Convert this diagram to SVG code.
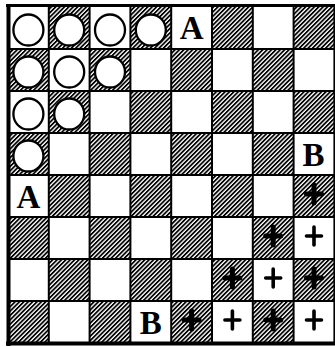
<svg xmlns="http://www.w3.org/2000/svg" xmlns:xlink="http://www.w3.org/1999/xlink" width="335" height="347" viewBox="0 0 335 347">
<style>
.light{fill:#fff}
.grid{stroke:#000;stroke-width:2;fill:none}
.border{stroke:#000;fill:none}
.man{fill:#fff;stroke:#000;stroke-width:2.3}
.lbl{font-family:"Liberation Serif","Times New Roman",serif;font-weight:bold;font-size:33px;text-anchor:middle;fill:#000}
.cw{stroke:#000;stroke-width:3.6;stroke-linecap:round;fill:none}
.cd{stroke:#000;stroke-width:5;stroke-linecap:round;fill:none}
</style>
<defs>
<pattern id="hatch" width="3.1" height="10" patternUnits="userSpaceOnUse" patternTransform="rotate(45)">
<rect width="3.1" height="10" fill="#fff"/>
<rect width="1.75" height="10" fill="#000"/>
</pattern>
<rect id="sq" width="40.8" height="42"/>
<path id="cross" d="M-7.5 0H7.5M0 -9V9"/>
</defs>
<rect width="335" height="347" fill="#fff"/>
<g id="board">
<rect x="8" y="7" width="327" height="336" fill="url(#hatch)"/>
<g class="light">
<use xlink:href="#sq" x="8" y="7"/><use xlink:href="#sq" x="89.6" y="7"/><use xlink:href="#sq" x="171.2" y="7"/><use xlink:href="#sq" x="252.8" y="7"/>
<use xlink:href="#sq" x="48.8" y="49"/><use xlink:href="#sq" x="130.4" y="49"/><use xlink:href="#sq" x="212" y="49"/><use xlink:href="#sq" x="293.6" y="49"/>
<use xlink:href="#sq" x="8" y="91"/><use xlink:href="#sq" x="89.6" y="91"/><use xlink:href="#sq" x="171.2" y="91"/><use xlink:href="#sq" x="252.8" y="91"/>
<use xlink:href="#sq" x="48.8" y="133"/><use xlink:href="#sq" x="130.4" y="133"/><use xlink:href="#sq" x="212" y="133"/><use xlink:href="#sq" x="293.6" y="133"/>
<use xlink:href="#sq" x="8" y="175"/><use xlink:href="#sq" x="89.6" y="175"/><use xlink:href="#sq" x="171.2" y="175"/><use xlink:href="#sq" x="252.8" y="175"/>
<use xlink:href="#sq" x="48.8" y="217"/><use xlink:href="#sq" x="130.4" y="217"/><use xlink:href="#sq" x="212" y="217"/><use xlink:href="#sq" x="293.6" y="217"/>
<use xlink:href="#sq" x="8" y="259"/><use xlink:href="#sq" x="89.6" y="259"/><use xlink:href="#sq" x="171.2" y="259"/><use xlink:href="#sq" x="252.8" y="259"/>
<use xlink:href="#sq" x="48.8" y="301"/><use xlink:href="#sq" x="130.4" y="301"/><use xlink:href="#sq" x="212" y="301"/><use xlink:href="#sq" x="293.6" y="301"/>
</g>
</g>
<g id="grid" class="grid">
<path d="M48.8 7V343M89.6 7V343M130.4 7V343M171.2 7V343M212 7V343M252.8 7V343M293.6 7V343M334.4 7V343"/>
<path d="M8 49H335M8 91H335M8 133H335M8 175H335M8 217H335M8 259H335M8 301H335"/>
</g>
<g id="frame" class="border">
<path d="M8.5 4V346" stroke-width="4"/>
<path d="M6 5.5H335" stroke-width="3"/>
<path d="M6 343.5H335" stroke-width="4"/>
</g>
<g id="men">
<g id="m1"><ellipse class="man" cx="28.4" cy="30" rx="15" ry="15.5"/></g>
<g id="m2"><ellipse class="man" cx="69.2" cy="30" rx="15" ry="15.5"/></g>
<g id="m3"><ellipse class="man" cx="110" cy="30" rx="15" ry="15.5"/></g>
<g id="m4"><ellipse class="man" cx="150.8" cy="30" rx="15" ry="15.5"/></g>
<g id="m5"><ellipse class="man" cx="28.4" cy="72" rx="15" ry="15.5"/></g>
<g id="m6"><ellipse class="man" cx="69.2" cy="72" rx="15" ry="15.5"/></g>
<g id="m7"><ellipse class="man" cx="110" cy="72" rx="15" ry="15.5"/></g>
<g id="m8"><ellipse class="man" cx="28.4" cy="114" rx="15" ry="15.5"/></g>
<g id="m9"><ellipse class="man" cx="69.2" cy="114" rx="15" ry="15.5"/></g>
<g id="m10"><ellipse class="man" cx="28.4" cy="156" rx="15" ry="15.5"/></g>
</g>
<g id="labels">
<g id="A1"><text class="lbl" x="191.6" y="38.5">A</text></g>
<g id="A2"><text class="lbl" x="28.4" y="207.5">A</text></g>
<g id="B1"><text class="lbl" x="313.5" y="165.5">B</text></g>
<g id="B2"><text class="lbl" x="150.8" y="333.5">B</text></g>
</g>
<g id="crosses">
<use xlink:href="#cross" class="cd" x="314" y="194"/>
<use xlink:href="#cross" class="cd" x="273.2" y="236"/>
<use xlink:href="#cross" class="cw" x="314" y="236"/>
<use xlink:href="#cross" class="cd" x="232.4" y="278"/>
<use xlink:href="#cross" class="cw" x="273.2" y="278"/>
<use xlink:href="#cross" class="cd" x="314" y="278"/>
<use xlink:href="#cross" class="cd" x="191.6" y="320"/>
<use xlink:href="#cross" class="cw" x="232.4" y="320"/>
<use xlink:href="#cross" class="cd" x="273.2" y="320"/>
<use xlink:href="#cross" class="cw" x="314" y="320"/>
</g>
</svg>
